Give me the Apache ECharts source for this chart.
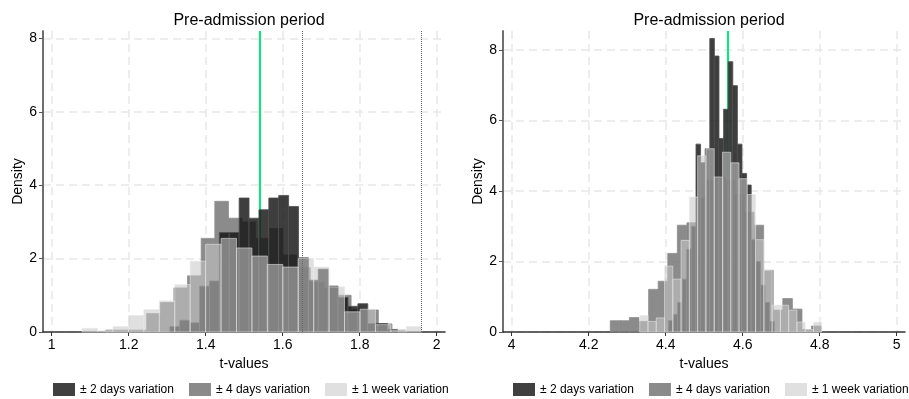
<!DOCTYPE html>
<html>
<head>
<meta charset="utf-8">
<script src="https://cdn.jsdelivr.net/npm/echarts@6/dist/echarts.min.js"></script>
<style>
  html, body { margin: 0; padding: 0; background: #ffffff; }
  #chart { width: 909px; height: 399px; }
</style>
</head>
<body>
<div id="chart"></div>
<script>
// ---- Histogram bins: first edge, bin width, densities per bin ----
// Left panel (t-values around 1.5)
const leftTwoDaysStart = 1.307, leftTwoDaysWidth = 0.0257;
const leftTwoDays = [0.15, 0.32, 0.25, 1.25, 1.39, 2.71, 2.71, 3.65, 3.10, 3.33, 3.65, 3.72,
                     3.42, 2.02, 1.41, 1.71, 1.25, 0.94, 0.70, 0.77, 0.23, 0.23, 0.07];
const leftFourDaysStart = 1.1405, leftFourDaysWidth = 0.0354;
const leftFourDays = [0.05, 0.05, 0.05, 0.50, 0.80, 1.20, 1.53, 2.55, 3.56, 3.10, 3.00,
                      2.55, 2.82, 2.10, 1.75, 1.35, 1.20, 1.00, 0.62, 0.60, 0.22, 0.05];
const leftWeekStart = 1.079, leftWeekWidth = 0.0401;
const leftWeek = [0.10, 0.03, 0.15, 0.45, 0.61, 0.85, 1.29, 1.93, 2.39, 2.55, 2.29,
                  2.07, 1.84, 1.77, 2.00, 1.77, 1.23, 0.55, 0.62, 0.20, 0.05, 0.15];

// Right panel (t-values around 4.55)
const rightTwoDaysStart = 4.407, rightTwoDaysWidth = 0.01195;
const rightTwoDays = [0.32, 0.50, 0.84, 1.50, 2.35, 3.00, 5.33, 4.80, 5.20, 8.33, 7.83, 5.49,
                      6.32, 7.67, 6.99, 5.33, 4.50, 4.17, 2.62, 2.00, 1.33, 0.84, 0.30];
const rightFourDaysStart = 4.256, rightFourDaysWidth = 0.0249;
const rightFourDays = [0.32, 0.32, 0.41, 0.30, 1.21, 1.44, 2.23, 3.03, 3.10, 3.80, 4.30,
                       4.40, 4.30, 3.90, 3.40, 3.03, 1.75, 0.62, 0.95, 0.65, 0.07, 0.17];
const rightWeekStart = 4.3325, rightWeekWidth = 0.0215;
const rightWeek = [0.47, 0.30, 0.40, 1.87, 1.50, 2.60, 3.83, 5.00, 5.20, 4.40, 5.10,
                   4.80, 4.35, 3.90, 2.62, 1.75, 0.76, 0.76, 0.62, 0.28, 0.07, 0.28];

// Reference lines
const leftObserved = 1.541;
const rightObserved = 4.56;
const criticalValues = [1.645, 1.96];

// Axis ticks
const leftXTicks = [1, 1.2, 1.4, 1.6, 1.8, 2];
const rightXTicks = [4, 4.2, 4.4, 4.6, 4.8, 5];
const yTicks = [0, 2, 4, 6, 8];

const seriesNames = ['± 2 days variation', '± 4 days variation', '± 1 week variation'];
const titleText = 'Pre-admission period';

// ---- Styling ----
const FONT = "'Liberation Sans', Arial, Helvetica, sans-serif";
const LOOK = {
  two:  { fill: '#141414', stroke: '#505050', opacity: 0.82, key: '#404040' },
  four: { fill: '#6e6e6e', stroke: '#8e8e8e', opacity: 0.80, key: '#8a8a8a' },
  week: { fill: '#c8c8c8', stroke: '#eaeaea', opacity: 0.56, key: '#e0e0e0' }
};
const GREEN = '#00ee76';

function toBins(start, width, values) {
  return values.map((v, i) => [start + i * width, start + (i + 1) * width, v]);
}

function barRenderer(look) {
  return function (params, api) {
    const topLeft = api.coord([api.value(0), api.value(2)]);
    const bottomRight = api.coord([api.value(1), 0]);
    return {
      type: 'rect',
      shape: {
        x: topLeft[0],
        y: topLeft[1],
        width: bottomRight[0] - topLeft[0],
        height: bottomRight[1] - topLeft[1]
      },
      style: { fill: look.fill, stroke: look.stroke, lineWidth: 1, opacity: look.opacity }
    };
  };
}

function histSeries(name, look, bins, axisIndex, extra) {
  return Object.assign({
    type: 'custom',
    name: name,
    xAxisIndex: axisIndex,
    yAxisIndex: axisIndex,
    renderItem: barRenderer(look),
    encode: { x: [0, 1], y: 2 },
    itemStyle: { color: look.key },
    data: bins,
    silent: true,
    z: 2
  }, extra || {});
}

function observedLine(value) {
  return {
    silent: true, symbol: ['none', 'none'], z: 1,
    label: { show: false },
    lineStyle: { color: GREEN, width: 2, type: 'solid' },
    data: [{ xAxis: value }]
  };
}

function xAxisFor(gridIndex, min, max, ticks) {
  return {
    type: 'value', gridIndex: gridIndex, min: min, max: max,
    name: 't-values', nameLocation: 'middle', nameGap: 25,
    nameTextStyle: { fontFamily: FONT, fontSize: 14, color: '#000' },
    axisLine: { show: true, onZero: false, lineStyle: { color: '#333', width: 1.5 } },
    axisTick: { show: true, length: 4, customValues: ticks, lineStyle: { color: '#333', width: 1 } },
    axisLabel: { customValues: ticks, margin: 6, fontFamily: FONT, fontSize: 14, color: '#000' },
    splitLine: { show: true, lineStyle: { color: '#e8e8e8', width: 1.5, type: [8, 5] } }
  };
}

function yAxisFor(gridIndex, max) {
  return {
    type: 'value', gridIndex: gridIndex, min: 0, max: max,
    name: 'Density', nameLocation: 'middle', nameGap: 18,
    nameTextStyle: { fontFamily: FONT, fontSize: 14, color: '#000' },
    axisLine: { show: true, lineStyle: { color: '#707070', width: 2 } },
    axisTick: { show: true, length: 4, customValues: yTicks, lineStyle: { color: '#555', width: 1 } },
    axisLabel: { customValues: yTicks, margin: 6, fontFamily: FONT, fontSize: 14, color: '#000' },
    splitLine: { show: true, lineStyle: { color: '#e8e8e8', width: 1.5, type: [8, 5] } }
  };
}

const legendItems = [
  { name: seriesNames[0], itemStyle: { color: LOOK.two.key, borderWidth: 0, opacity: 1 } },
  { name: seriesNames[1], itemStyle: { color: LOOK.four.key, borderWidth: 0, opacity: 1 } },
  { name: seriesNames[2], itemStyle: { color: LOOK.week.key, borderWidth: 0, opacity: 1 } }
];

function legendAt(left) {
  return {
    left: left, top: 383, orient: 'horizontal', icon: 'rect',
    itemWidth: 22, itemHeight: 13, itemGap: 15, padding: 0,
    selectedMode: false,
    textStyle: { fontFamily: FONT, fontSize: 12, color: '#000' },
    data: legendItems
  };
}

const chart = echarts.init(document.getElementById('chart'), null, { renderer: 'canvas' });

chart.setOption({
  animation: false,
  backgroundColor: '#ffffff',
  title: [
    { text: titleText, left: 244, top: 8, textAlign: 'center',
      textStyle: { fontFamily: FONT, fontSize: 16, fontWeight: 'normal', color: '#000' } },
    { text: titleText, left: 704, top: 8, textAlign: 'center',
      textStyle: { fontFamily: FONT, fontSize: 16, fontWeight: 'normal', color: '#000' } }
  ],
  legend: [legendAt(53), legendAt(513)],
  grid: [
    { left: 43, top: 31, width: 402, height: 301 },
    { left: 503, top: 31, width: 402, height: 301 }
  ],
  xAxis: [
    xAxisFor(0, 0.9774, 2.0216, leftXTicks),
    xAxisFor(1, 3.9774, 5.0216, rightXTicks)
  ],
  yAxis: [
    yAxisFor(0, 8.20),
    yAxisFor(1, 8.54)
  ],
  series: [
    histSeries(seriesNames[1], LOOK.four, toBins(leftFourDaysStart, leftFourDaysWidth, leftFourDays), 0,
      { markLine: observedLine(leftObserved) }),
    histSeries(seriesNames[0], LOOK.two, toBins(leftTwoDaysStart, leftTwoDaysWidth, leftTwoDays), 0),
    histSeries(seriesNames[2], LOOK.week, toBins(leftWeekStart, leftWeekWidth, leftWeek), 0, {
      markLine: {
        silent: true, symbol: ['none', 'none'], z: 10,
        label: { show: false },
        lineStyle: { color: '#666', width: 1, type: 'dotted' },
        data: criticalValues.map(v => ({ xAxis: v }))
      }
    }),

    histSeries(seriesNames[1], LOOK.four, toBins(rightFourDaysStart, rightFourDaysWidth, rightFourDays), 1,
      { markLine: observedLine(rightObserved) }),
    histSeries(seriesNames[0], LOOK.two, toBins(rightTwoDaysStart, rightTwoDaysWidth, rightTwoDays), 1),
    histSeries(seriesNames[2], LOOK.week, toBins(rightWeekStart, rightWeekWidth, rightWeek), 1)
  ]
});
</script>
</body>
</html>
